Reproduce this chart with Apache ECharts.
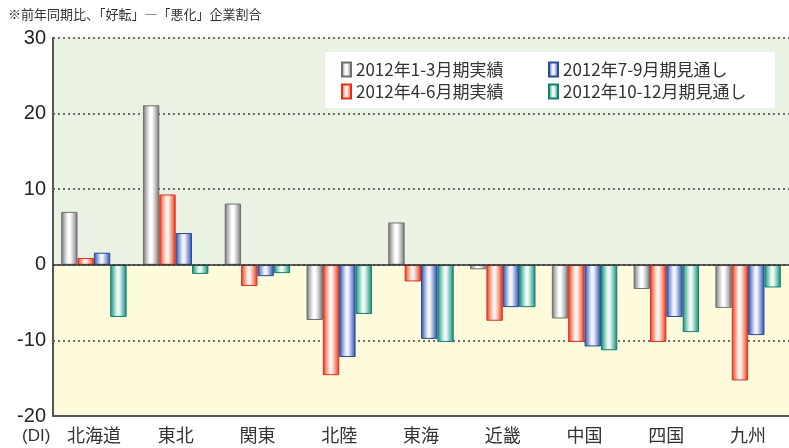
<!DOCTYPE html>
<html><head><meta charset="utf-8">
<script src="https://cdn.jsdelivr.net/npm/echarts@6/dist/echarts.min.js"></script>
<style>html,body{margin:0;padding:0;background:#fff}#c{width:789px;height:448px}</style>
</head><body><div id="c"></div>
<script>
const categories = ['北海道','東北','関東','北陸','東海','近畿','中国','四国','九州'];
const seriesNames = ['2012年1-3月期実績','2012年4-6月期実績','2012年7-9月期見通し','2012年10-12月期見通し'];
const q1 = [7.0, 21.1, 8.1, -7.3, 5.6, -0.6, -7.1, -3.2, -5.7];
const q2 = [0.9, 9.3, -2.8, -14.6, -2.2, -7.4, -10.2, -10.2, -15.3];
const q3 = [1.6, 4.2, -1.5, -12.2, -9.8, -5.6, -10.8, -6.9, -9.3];
const q4 = [-6.9, -1.2, -1.1, -6.5, -10.2, -5.6, -11.3, -8.9, -3.0];
const yTicks = {min: -20, max: 30, interval: 10};

const palettes = [
  {edge:'#6a6a6a', soft:'#b5b5b5', mid:'#ffffff', border:'#707070'},
  {edge:'#e52a14', soft:'#f58a72', mid:'#fff2ec', border:'#e0301a'},
  {edge:'#274a9c', soft:'#7f95d2', mid:'#f0f2fc', border:'#284a98'},
  {edge:'#0d8475', soft:'#6cbfb0', mid:'#ecf8f4', border:'#10806f'}
];
function grad(p){
  return new echarts.graphic.LinearGradient(0,0,1,0,[
    {offset:0,color:p.edge},{offset:0.18,color:p.soft},{offset:0.42,color:p.mid},
    {offset:0.55,color:p.mid},{offset:0.8,color:p.soft},{offset:1,color:p.edge}]);
}
const data = [q1,q2,q3,q4];
const chart = echarts.init(document.getElementById('c'));
const barSeries = data.map((d,i)=>({
  name: seriesNames[i], type:'bar', data:d, z:3,
  barGap:'0%', barCategoryGap:'20%',
  itemStyle:{color:grad(palettes[i]), borderColor:palettes[i].border, borderWidth:1},
  emphasis:{disabled:true}
}));
barSeries[0].markLine = {silent:true, symbol:'none', label:{show:false},
  lineStyle:{color:'#333', width:1.5, type:'solid'}, data:[{yAxis:0}], z:4};
const bg = {type:'line', data:[], z:0, silent:true,
  markArea:{silent:true, z:0, data:[
    [{yAxis:0, itemStyle:{color:'#eaf3e3'}},{yAxis:yTicks.max}],
    [{yAxis:yTicks.min, itemStyle:{color:'#fefadc'}},{yAxis:0}]
  ]}};
const legendText = {fontSize:17, color:'#333', fontFamily:'Noto Sans CJK JP'};
chart.setOption({
  animation:false,
  grid:{left:53, right:-7, top:38, bottom:32},
  title:{text:'※前年同期比、「好転」―「悪化」企業割合', left:3, top:3,
    textStyle:{fontSize:13, fontWeight:'normal', color:'#333', fontFamily:'Noto Sans CJK JP'}},
  graphic:[
    {type:'rect', left:325, top:52, shape:{width:450, height:56}, style:{fill:'#fff'}, z:5},
    {type:'text', left:22, top:428, style:{text:'(DI)', font:'17px "Liberation Sans"', fill:'#333'}, z:5}
  ],
  legend:[
    {data:[seriesNames[0],seriesNames[1]], orient:'vertical', left:336, top:56, itemGap:5,
      icon:'rect', itemWidth:9, itemHeight:14, textStyle:legendText, z:6, selectedMode:false},
    {data:[seriesNames[2],seriesNames[3]], orient:'vertical', left:543, top:56, itemGap:5,
      icon:'rect', itemWidth:9, itemHeight:14, textStyle:legendText, z:6, selectedMode:false}
  ],
  xAxis:{type:'category', data:categories, z:2,
    axisLine:{onZero:false, lineStyle:{color:'#555', width:2}},
    axisTick:{show:false},
    axisLabel:{fontSize:18, color:'#333', margin:10, fontFamily:'Noto Sans CJK JP'}},
  yAxis:{type:'value', min:yTicks.min, max:yTicks.max, interval:yTicks.interval, z:2,
    axisLine:{show:true, lineStyle:{color:'#555', width:2}},
    axisTick:{show:false},
    axisLabel:{fontSize:20, color:'#222', margin:7, fontFamily:'Liberation Sans'},
    splitLine:{show:true, lineStyle:{color:'#444', width:1.5, type:[2,3]}}},
  series:[bg].concat(barSeries)
});
</script></body></html>
